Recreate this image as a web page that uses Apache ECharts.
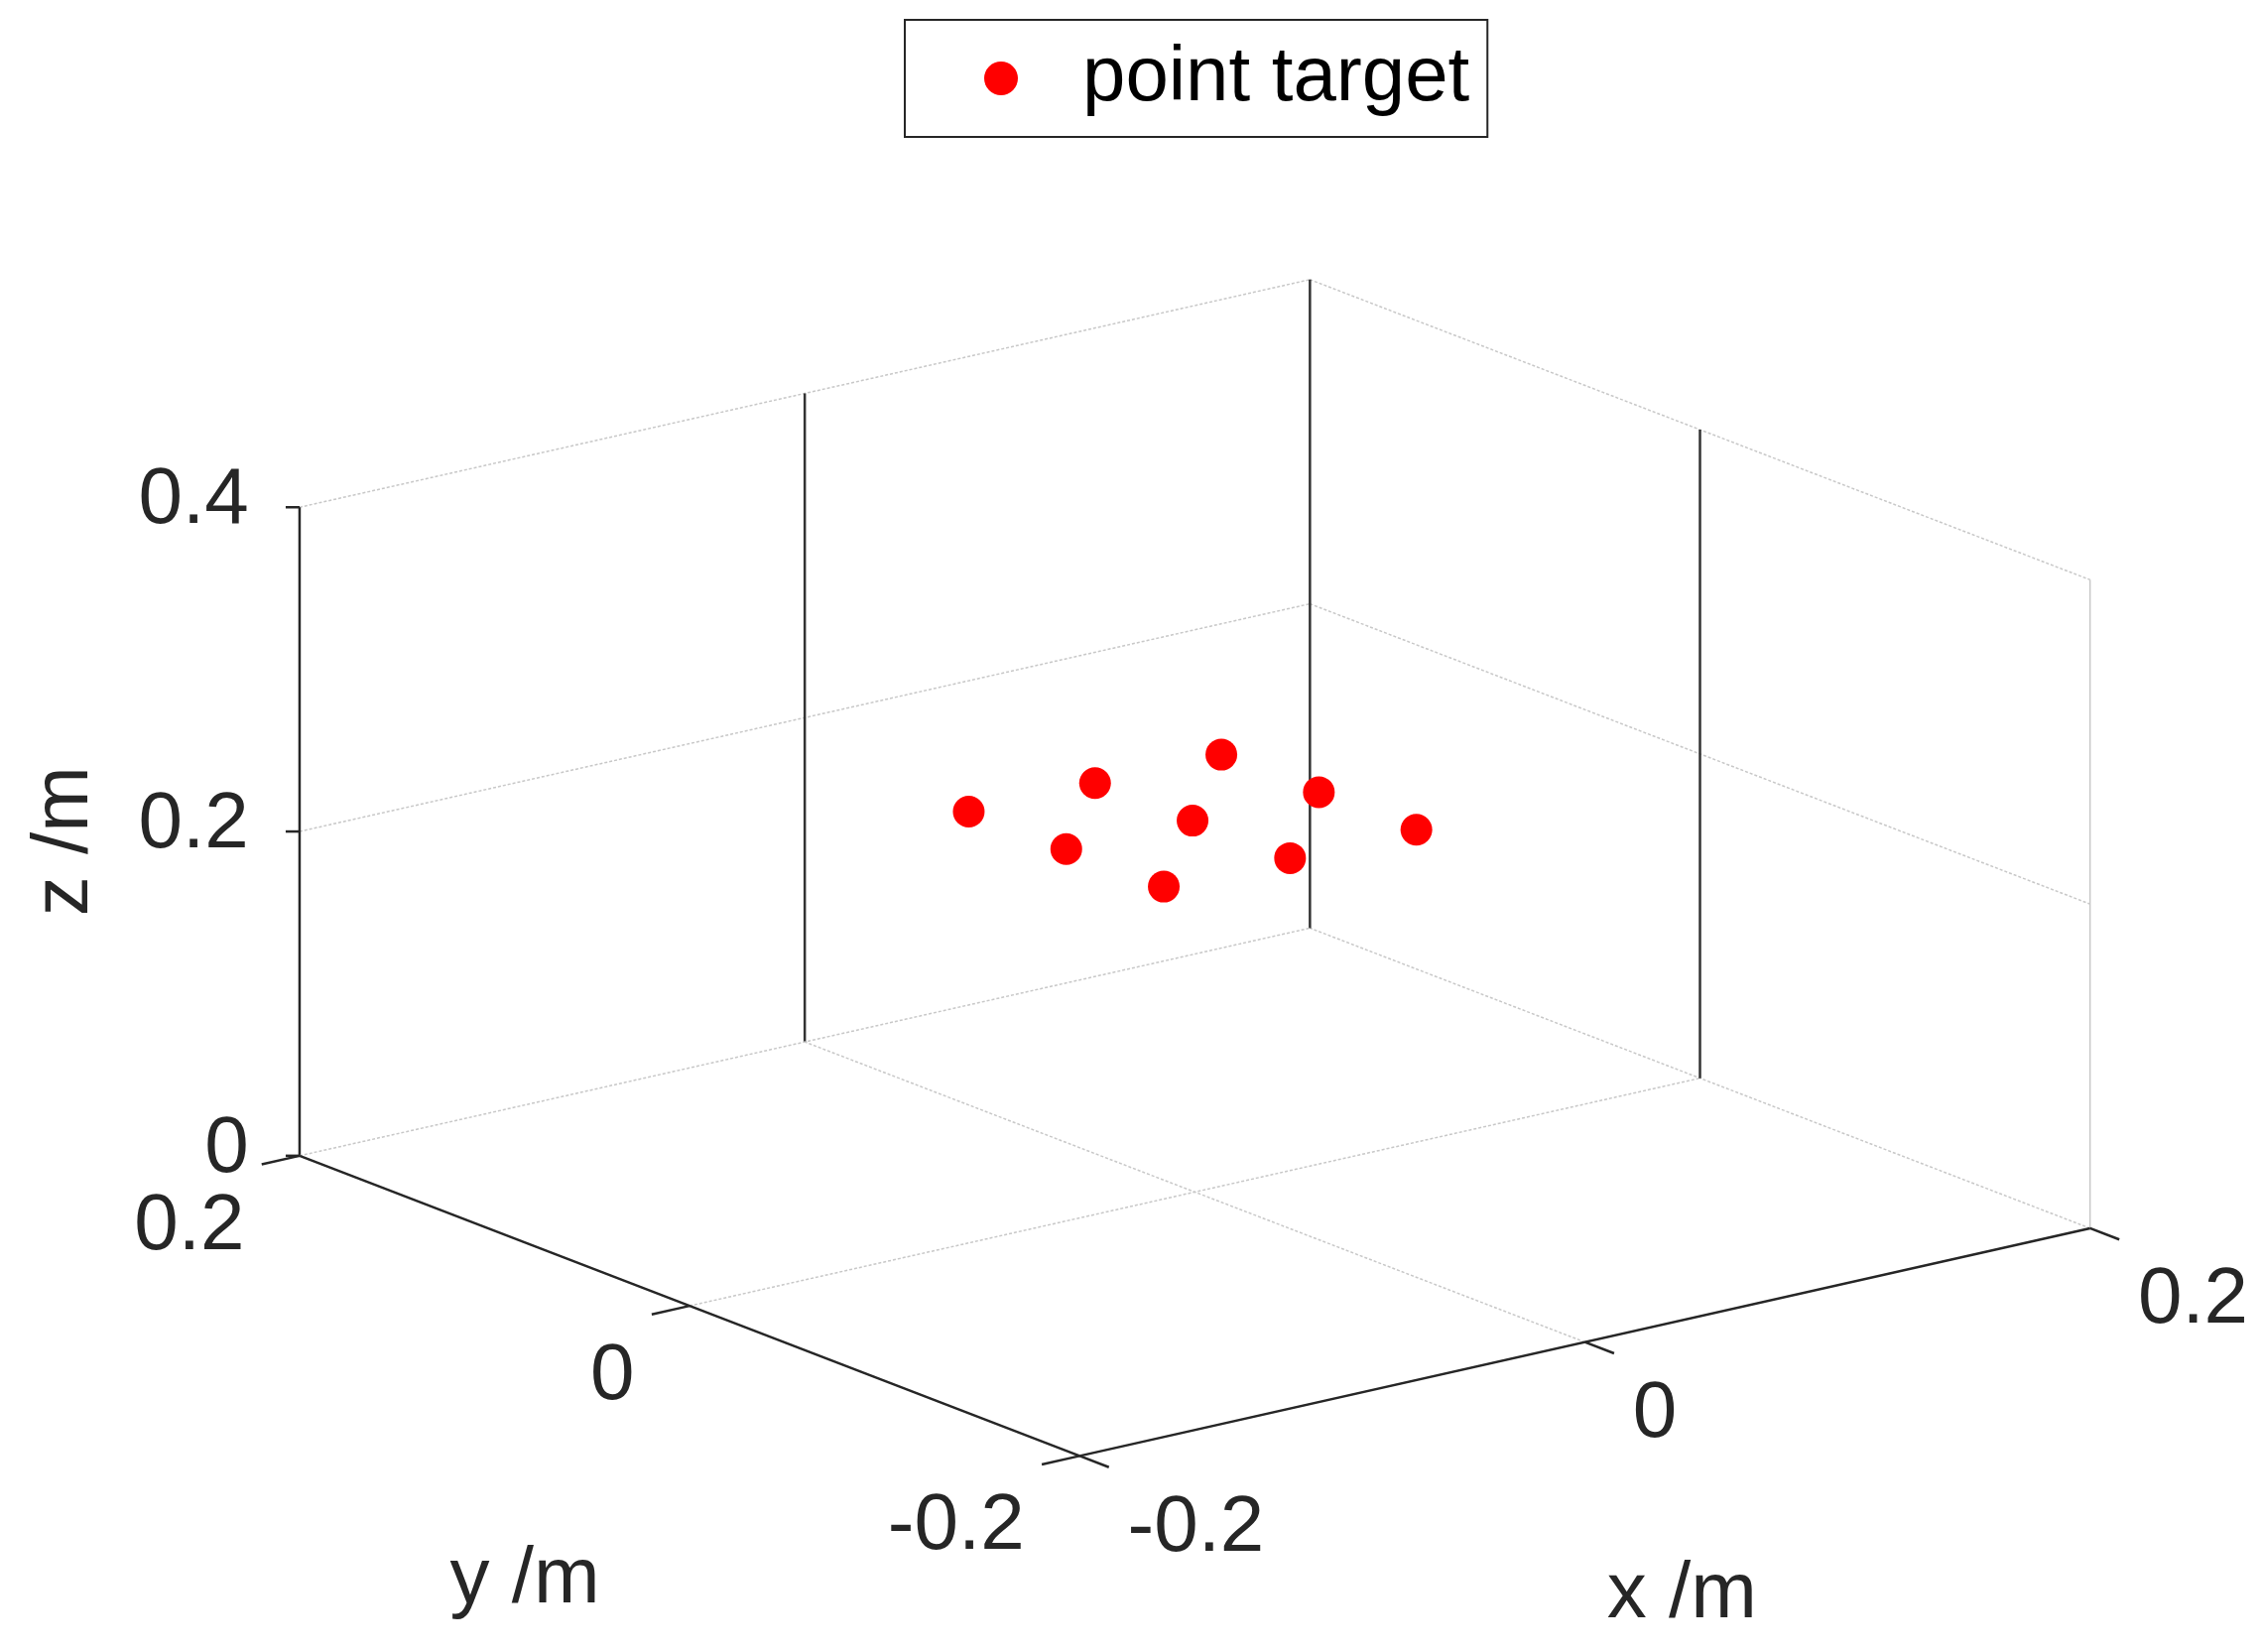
<!DOCTYPE html>
<html>
<head>
  <meta charset="UTF-8">
  <title>point target</title>
  <script src="https://cdn.jsdelivr.net/npm/echarts@6/dist/echarts.min.js"></script>
  <style>html,body{margin:0;background:#fff}</style>
</head>
<body>
<div id="main" style="width:2280px;height:1665px"></div>
<script type="text/javascript">
  // target positions (m)
  var ptX = [-0.02, 0.03, 0.08, 0.08, 0.08, -0.02, 0.03, -0.02, 0.03];
  var ptY = [0.09, 0.09, 0.09, 0.04, -0.01, 0.04, 0.04, -0.01, -0.01];
  var ptZ = [0.2, 0.2, 0.2, 0.2, 0.2, 0.2, 0.2, 0.2, 0.2];
  var xTicks = [-0.2, 0, 0.2];
  var yTicks = [-0.2, 0, 0.2];
  var zTicks = [0, 0.2, 0.4];
  var font = 'Liberation Sans';

  // simple fixed view projection (MATLAB default 3D view)
  var s = 2280 / 1560;
  function proj(x, y, z) {
    return [824 * s + s * (1742 * x - 1345 * y),
            822 * s + s * (-392.5 * x - 517.5 * y - 1118 * z)];
  }
  function line(a, b, color, w, dash) {
    return {type: 'line', shape: {x1: a[0], y1: a[1], x2: b[0], y2: b[1]},
      style: {stroke: color, lineWidth: w, lineDash: dash || null}};
  }
  function text(p, str, align, vAlign, rot) {
    return {type: 'text', x: p[0], y: p[1], rotation: rot || 0,
      style: {text: str, font: '80px ' + font, fill: '#262626', align: align, verticalAlign: vAlign}};
  }
  function fmt(v) { return v === 0 ? '0' : String(v); }

  function drawAxes() {
    var g = [], gc = '#c8c8c8';
    // grid on back walls and floor
    zTicks.forEach(function (z) {
      if (z === 0) return;
      g.push(line(proj(-0.2, 0.2, z), proj(0.2, 0.2, z), gc, 1.5, [3, 2]));
      g.push(line(proj(0.2, 0.2, z), proj(0.2, -0.2, z), gc, 1.5, [3, 2]));
    });
    xTicks.forEach(function (x) {
      g.push(line(proj(x, -0.2, 0), proj(x, 0.2, 0), gc, 1.5, [3, 2]));
      g.push(line(proj(x, 0.2, 0), proj(x, 0.2, 0.4), x === -0.2 ? '#262626' : '#333', x === -0.2 ? 2.5 : 2.5));
    });
    yTicks.forEach(function (y) {
      g.push(line(proj(-0.2, y, 0), proj(0.2, y, 0), gc, 1.5, [3, 2]));
      if (y !== 0.2) g.push(line(proj(0.2, y, 0), proj(0.2, y, 0.4), y === 0 ? '#333' : gc, y === 0 ? 2.5 : 1.5));
    });
    // axis lines
    var ac = '#262626';
    g.push(line(proj(-0.2, -0.2, 0), proj(0.2, -0.2, 0), ac, 2.5));
    g.push(line(proj(-0.2, -0.2, 0), proj(-0.2, 0.2, 0), ac, 2.5));
    // ticks + labels
    xTicks.forEach(function (x) {
      var p = proj(x, -0.2, 0), q = proj(x, -0.215, 0);
      g.push(line(p, q, ac, 2.5));
      g.push(text([p[0] + 33 * s, p[1] + 50 * s], fmt(x), 'left', 'middle'));
    });
    yTicks.forEach(function (y) {
      var p = proj(-0.2, y, 0), q = proj(-0.215, y, 0);
      g.push(line(p, q, ac, 2.5));
      g.push(text([p[0] - 38 * s, p[1] + 49 * s], fmt(y), 'right', 'middle'));
    });
    zTicks.forEach(function (z) {
      var p = proj(-0.2, 0.2, z);
      g.push(line(p, [p[0] - 14, p[1]], ac, 2.5));
      g.push(text([p[0] - 35 * s, p[1] - 4 * s], fmt(z), 'right', 'middle'));
    });
    g.push(text([1160 * s, 1100 * s], 'x /m', 'center', 'middle'));
    g.push(text([362 * s, 1090 * s], 'y /m', 'center', 'middle'));
    g.push(text([45 * s, 580 * s], 'z /m', 'center', 'middle', Math.PI / 2));
    return {type: 'group', children: g};
  }

  var chart = echarts.init(document.getElementById('main'));
  chart.setOption({
    animation: false,
    legend: {
      top: 20, left: 912, itemWidth: 34, itemHeight: 34, itemGap: 10,
      padding: [20, 18, 20, 80], borderColor: '#262626', borderWidth: 2,
      textStyle: {fontSize: 78, fontFamily: font, color: '#000', padding: [0, 0, 0, 60]},
      data: [{name: 'point target', icon: 'circle'}]
    },
    series: [
      {
        type: 'custom', coordinateSystem: 'none', data: [0], silent: true,
        renderItem: function () { return drawAxes(); }
      },
      {
        name: 'point target', type: 'custom', coordinateSystem: 'none',
        itemStyle: {color: '#ff0000'},
        data: ptX.map(function (x, i) { return [x, ptY[i], ptZ[i]]; }),
        renderItem: function (params, api) {
          var p = proj(api.value(0), api.value(1), api.value(2));
          return {type: 'circle', shape: {cx: p[0], cy: p[1], r: 16}, style: {fill: '#ff0000'}};
        }
      }
    ]
  });
</script>
</body>
</html>
